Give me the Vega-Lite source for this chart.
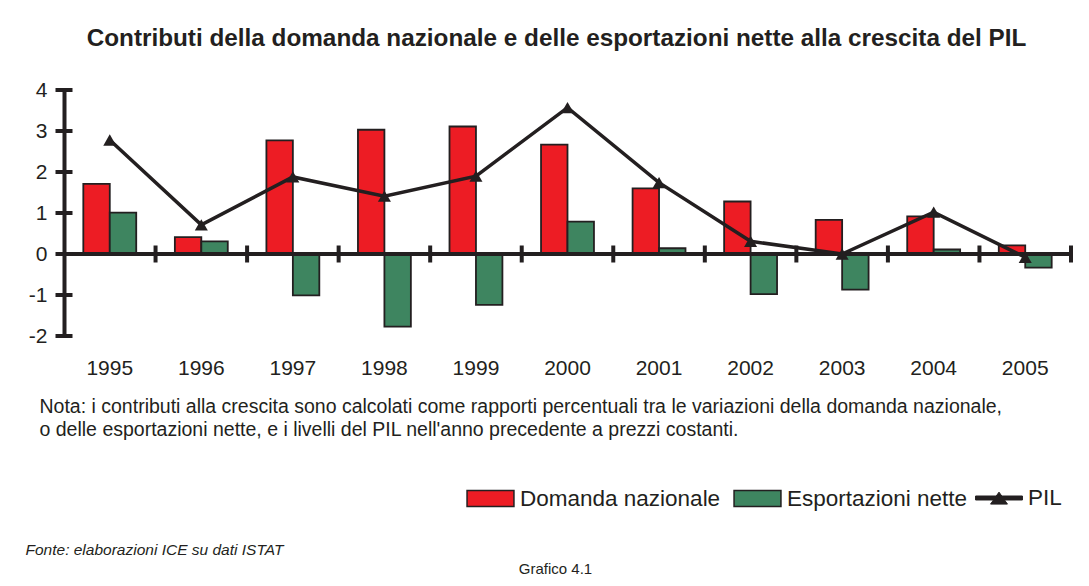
{
  "$schema": "https://vega.github.io/schema/vega-lite/v6.json",
  "width": 1007,
  "height": 246,
  "autosize": {"type": "none"},
  "padding": {"left": 64, "top": 90, "right": 18, "bottom": 250},
  "background": "white",
  "config": {
    "font": "Liberation Sans",
    "view": {"stroke": null},
    "axis": {"grid": false, "labelColor": "#231F20", "titleColor": "#231F20"}
  },
  "title": {
    "text": "Contributi della domanda nazionale e delle esportazioni nette alla crescita del PIL",
    "fontSize": 24.3,
    "fontWeight": "bold",
    "color": "#231F20",
    "anchor": "middle",
    "dx": -11,
    "offset": 28
  },
  "datasets": {
    "contributi": [
      {"anno": "1995", "serie": "Domanda nazionale", "valore": 1.71},
      {"anno": "1995", "serie": "Esportazioni nette", "valore": 1.01},
      {"anno": "1996", "serie": "Domanda nazionale", "valore": 0.41},
      {"anno": "1996", "serie": "Esportazioni nette", "valore": 0.31},
      {"anno": "1997", "serie": "Domanda nazionale", "valore": 2.77},
      {"anno": "1997", "serie": "Esportazioni nette", "valore": -1.01},
      {"anno": "1998", "serie": "Domanda nazionale", "valore": 3.03},
      {"anno": "1998", "serie": "Esportazioni nette", "valore": -1.77},
      {"anno": "1999", "serie": "Domanda nazionale", "valore": 3.11},
      {"anno": "1999", "serie": "Esportazioni nette", "valore": -1.24},
      {"anno": "2000", "serie": "Domanda nazionale", "valore": 2.67},
      {"anno": "2000", "serie": "Esportazioni nette", "valore": 0.79},
      {"anno": "2001", "serie": "Domanda nazionale", "valore": 1.6},
      {"anno": "2001", "serie": "Esportazioni nette", "valore": 0.14},
      {"anno": "2002", "serie": "Domanda nazionale", "valore": 1.28},
      {"anno": "2002", "serie": "Esportazioni nette", "valore": -0.98},
      {"anno": "2003", "serie": "Domanda nazionale", "valore": 0.83},
      {"anno": "2003", "serie": "Esportazioni nette", "valore": -0.87},
      {"anno": "2004", "serie": "Domanda nazionale", "valore": 0.92},
      {"anno": "2004", "serie": "Esportazioni nette", "valore": 0.11},
      {"anno": "2005", "serie": "Domanda nazionale", "valore": 0.21},
      {"anno": "2005", "serie": "Esportazioni nette", "valore": -0.33}
    ],
    "pil": [
      {"anno": "1995", "serie": "PIL", "pil": 2.78},
      {"anno": "1996", "serie": "PIL", "pil": 0.71},
      {"anno": "1997", "serie": "PIL", "pil": 1.88},
      {"anno": "1998", "serie": "PIL", "pil": 1.41},
      {"anno": "1999", "serie": "PIL", "pil": 1.9},
      {"anno": "2000", "serie": "PIL", "pil": 3.57},
      {"anno": "2001", "serie": "PIL", "pil": 1.74},
      {"anno": "2002", "serie": "PIL", "pil": 0.31},
      {"anno": "2003", "serie": "PIL", "pil": 0.0},
      {"anno": "2004", "serie": "PIL", "pil": 1.02},
      {"anno": "2005", "serie": "PIL", "pil": -0.08}
    ],
    "ytick": [
      {"anno": "1995", "v": -2}, {"anno": "1995", "v": -1}, {"anno": "1995", "v": 0},
      {"anno": "1995", "v": 1}, {"anno": "1995", "v": 2}, {"anno": "1995", "v": 3},
      {"anno": "1995", "v": 4}
    ]
  },
  "resolve": {"axis": {"y": "independent"}},
  "layer": [
    {
      "data": {"name": "contributi"},
      "mark": {"type": "bar", "stroke": "#231F20", "strokeWidth": 1.8},
      "encoding": {
        "x": {
          "field": "anno",
          "type": "ordinal",
          "scale": {"type": "band", "paddingInner": 0, "paddingOuter": 0},
          "axis": {
            "orient": "bottom",
            "domain": false,
            "ticks": false,
            "labelAngle": 0,
            "labelFontSize": 21,
            "labelPadding": 21,
            "title": [
              "Nota: i contributi alla crescita sono calcolati come rapporti percentuali tra le variazioni della domanda nazionale,",
              "\u00a0o delle esportazioni nette, e i livelli del PIL nell'anno precedente a prezzi costanti."
            ],
            "titleFontSize": 19.5,
            "titleFontWeight": "normal",
            "titleAlign": "left",
            "titleAnchor": "start",
            "titleBaseline": "alphabetic",
            "titleLineHeight": 23,
            "titleX": -25,
            "titleY": 76
          }
        },
        "xOffset": {
          "field": "serie",
          "type": "nominal",
          "scale": {"type": "band", "paddingInner": 0, "paddingOuter": 0.73}
        },
        "y": {
          "field": "valore",
          "type": "quantitative",
          "scale": {"domain": [-2, 4], "nice": false, "zero": false},
          "axis": {
            "orient": "left",
            "values": [-2, -1, 0, 1, 2, 3, 4],
            "labelExpr": "replace(datum.label, '\u2212', '-')",
            "domain": true,
            "domainColor": "#231F20",
            "domainWidth": 4,
            "ticks": false,
            "labelFontSize": 21,
            "labelPadding": 17,
            "title": "Fonte: elaborazioni ICE su dati ISTAT",
            "titleAngle": 0,
            "titleFontSize": 15.5,
            "titleFontStyle": "italic",
            "titleFontWeight": "normal",
            "titleAlign": "left",
            "titleBaseline": "alphabetic",
            "titleX": -39,
            "titleY": 464
          }
        },
        "fill": {
          "field": "serie",
          "type": "nominal",
          "scale": {
            "domain": ["Domanda nazionale", "Esportazioni nette"],
            "range": ["#ED1C24", "#3E8560"]
          },
          "legend": {
            "title": null,
            "orient": "none",
            "direction": "horizontal",
            "legendX": 402,
            "legendY": 384,
            "symbolType": "M-1,-0.34H1V0.34H-1Z",
            "symbolSize": 2200,
            "symbolStrokeColor": "#231F20",
            "symbolStrokeWidth": 1.5,
            "labelFontSize": 22.5,
            "labelColor": "#231F20",
            "labelLimit": 400,
            "labelOffset": 5,
            "columnPadding": 10,
            "padding": 0
          }
        }
      }
    },
    {
      "data": {"name": "pil"},
      "mark": {"type": "rule", "color": "#231F20", "strokeWidth": 4},
      "encoding": {
        "y": {
          "datum": 0,
          "type": "quantitative",
          "axis": {
            "orient": "right",
            "domain": false,
            "ticks": false,
            "labels": false,
            "title": "Grafico 4.1",
            "titleAngle": 0,
            "titleFontSize": 15,
            "titleFontWeight": "normal",
            "titleAlign": "center",
            "titleBaseline": "alphabetic",
            "titleX": -516,
            "titleY": 483
          }
        }
      }
    },
    {
      "data": {"name": "pil"},
      "mark": {"type": "tick", "orient": "vertical", "color": "#231F20", "size": 17, "thickness": 4, "opacity": 1},
      "encoding": {
        "x": {"field": "anno", "type": "ordinal", "bandPosition": 1},
        "y": {"datum": 0, "type": "quantitative", "axis": null}
      }
    },
    {
      "data": {"name": "ytick"},
      "mark": {"type": "point", "shape": "M-1,0H1", "filled": false, "stroke": "#231F20", "strokeWidth": 4, "size": 289, "opacity": 1},
      "encoding": {
        "x": {"field": "anno", "type": "ordinal", "bandPosition": 0},
        "y": {"field": "v", "type": "quantitative", "axis": null}
      }
    },
    {
      "data": {"name": "pil"},
      "mark": {"type": "line", "strokeWidth": 3.5},
      "encoding": {
        "x": {"field": "anno", "type": "ordinal"},
        "y": {"field": "pil", "type": "quantitative", "axis": null},
        "stroke": {
          "field": "serie",
          "type": "nominal",
          "scale": {"domain": ["PIL"], "range": ["#231F20"]},
          "legend": {
            "title": null,
            "orient": "none",
            "direction": "horizontal",
            "legendX": 911,
            "legendY": 384,
            "symbolType": "M-1,-0.085H1V0.085H-1Z M0,-0.25L0.36,0.26H-0.36Z",
            "symbolSize": 2200,
            "symbolFillColor": "#231F20",
            "symbolStrokeColor": "#231F20",
            "symbolStrokeWidth": 1,
            "labelFontSize": 22.5,
            "labelColor": "#231F20",
            "labelOffset": 5,
            "padding": 0
          }
        }
      }
    },
    {
      "data": {"name": "pil"},
      "mark": {"type": "point", "shape": "triangle-up", "filled": true, "color": "#231F20", "size": 170, "opacity": 1},
      "encoding": {
        "x": {"field": "anno", "type": "ordinal"},
        "y": {"field": "pil", "type": "quantitative", "axis": null}
      }
    }
  ]
}
